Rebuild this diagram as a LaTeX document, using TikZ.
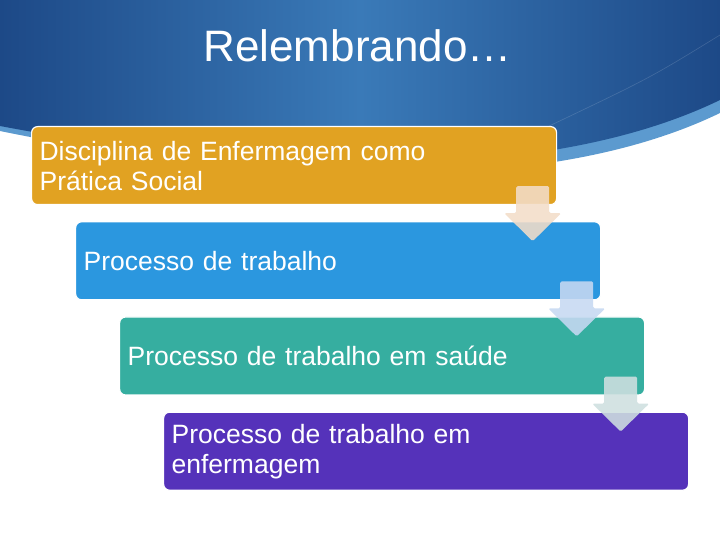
\documentclass[tikz,border=0pt]{standalone}
\usepackage{fontspec}
\setmainfont{Liberation Sans}
\usetikzlibrary{positioning,calc}
\definecolor{headdark}{HTML}{1D4987}
\definecolor{headmid}{HTML}{3A7AB8}
\definecolor{headband}{HTML}{5C9ACF}
\definecolor{stagegold}{HTML}{E1A222}
\definecolor{stageblue}{HTML}{2B97DF}
\definecolor{stageteal}{HTML}{36AEA0}
\definecolor{stagepurple}{HTML}{5532BA}
\definecolor{tipgold}{HTML}{F3DDC9}
\definecolor{tipblue}{HTML}{C7D9F2}
\definecolor{tipteal}{HTML}{CFE0E0}

\begin{document}
\begin{tikzpicture}[x=1pt, y=1pt, node distance=16pt and 44pt, every node/.style={font=\fontsize{26.5}{30}\selectfont}]
    \tikzstyle{stage}=[rounded corners=6pt,draw=white,line width=1.2pt,minimum height=78pt,text width=509pt,inner xsep=8pt,align=left,text=white]
    \tikzstyle{tip}=[opacity=0.88,rounded corners=1.5pt]
    \useasboundingbox (0,0) rectangle (720,540);
    \fill[white] (0,0) rectangle (720,540);
    % header
    \fill[headband] (0,540) -- (720,540) -- (720,427) .. controls (520,330) and (200,368) .. (0,409) -- cycle;
    \shade[left color=headdark,right color=headdark,middle color=headmid] (0,540) -- (720,540) -- (720,440) .. controls (520,343) and (200,376) .. (0,414) -- cycle;
    \draw[white,opacity=0.15,line width=0.6pt] (720,505) .. controls (650,462) .. (545,412);
    \node[font=\fontsize{44}{50}\selectfont,text=white,anchor=base] (title) at (357.5,478) {Relembrando…};
    % stages
    \node[stage,fill=stagegold,anchor=north west] (b1) at (31,414) {Disciplina de Enfermagem como\\Prática Social};
    \node[stage,fill=stageblue,below right=of b1.south west] (b2) {Processo de trabalho};
    \node[stage,fill=stageteal,below right=of b2.south west] (b3) {Processo de trabalho em saúde};
    \node[stage,fill=stagepurple,below right=of b3.south west] (b4) {Processo de trabalho em\\enfermagem};
    % arrows
    \coordinate (a1) at ($(b1.south east)+(-24.5,19)$);
    \coordinate (a2) at ($(b2.south east)+(-24.5,19)$);
    \coordinate (a3) at ($(b3.south east)+(-24.5,19)$);
    \fill[tip,tipgold] (a1) ++(-16.5,0) -- ++(33,0) -- ++(0,-27) -- ++(12,0) -- ++(-28.5,-28) -- ++(-28.5,28) -- ++(12,0) -- cycle;
    \fill[tip,tipblue] (a2) ++(-16.5,0) -- ++(33,0) -- ++(0,-27) -- ++(12,0) -- ++(-28.5,-28) -- ++(-28.5,28) -- ++(12,0) -- cycle;
    \fill[tip,tipteal] (a3) ++(-16.5,0) -- ++(33,0) -- ++(0,-27) -- ++(12,0) -- ++(-28.5,-28) -- ++(-28.5,28) -- ++(12,0) -- cycle;
\end{tikzpicture}
\end{document}
